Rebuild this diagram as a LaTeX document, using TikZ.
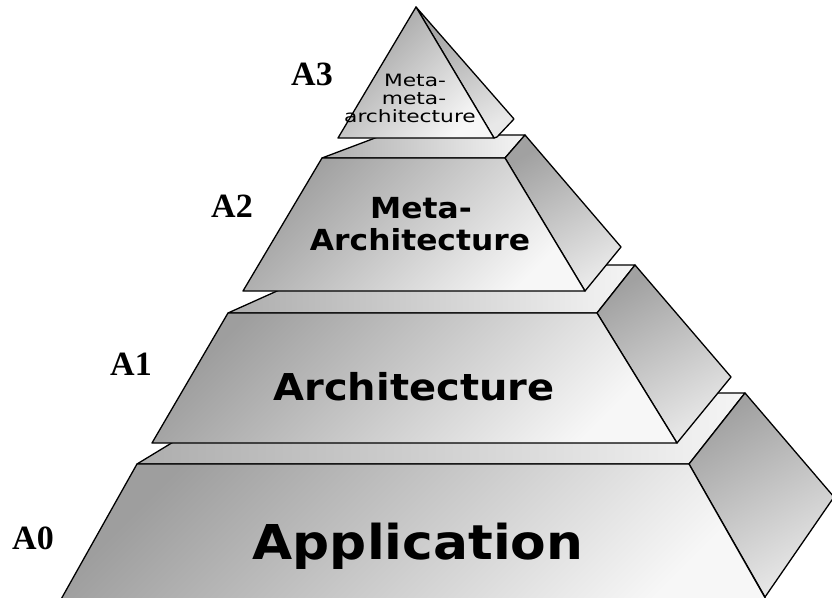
\documentclass[tikz,border=0pt]{standalone}
\usepackage{fontspec}
\newfontfamily\vfont[FakeStretch=1.08]{DejaVu Sans}
\newfontfamily\vsmall[FakeStretch=1.28]{DejaVu Sans}
\newfontfamily\labfont{Liberation Serif}
\definecolor{fdark}{gray}{0.62}
\definecolor{flight}{gray}{0.97}
\definecolor{sdark}{gray}{0.63}
\definecolor{slight}{gray}{0.91}
\definecolor{tdark}{gray}{0.68}
\definecolor{tlight}{gray}{0.96}
\tikzset{
  face/.style={draw=black, line width=1.3pt, line join=round},
  frontface/.style={face, top color=fdark, bottom color=flight, shading angle=45},
  sideface/.style={face, top color=sdark, bottom color=slight, shading angle=30},
  topface/.style={face, left color=tdark, right color=tlight},
  lab/.style={font=\labfont\bfseries\fontsize{34}{34}\selectfont, anchor=base, inner sep=0pt},
  bigtext/.style={font=\vfont\bfseries\fontsize{48}{48}\selectfont, anchor=base, inner sep=0pt},
  midtext/.style={font=\vfont\bfseries\fontsize{37}{37}\selectfont, anchor=base, inner sep=0pt},
  smalltext/.style={font=\vfont\bfseries\fontsize{29}{29}\selectfont, anchor=base, inner sep=0pt},
  tinytext/.style={font=\vsmall\fontsize{17}{17}\selectfont, anchor=base, inner sep=0pt}
}
\begin{document}
\begin{tikzpicture}[x=1pt,y=-1pt]
\clip (0,0) rectangle (832,597);
\fill[white] (0,0) rectangle (832,597);
% A0 layer
\draw[topface] (137,464) -- (254,393) -- (745,393) -- (689,464) -- cycle;
\draw[sideface] (689,464) -- (745,393) -- (834,497) -- (765,597) -- cycle;
\draw[frontface] (137,464) -- (689,464) -- (772,610) -- (55,610) -- cycle;
% A1 layer
\draw[topface] (228,313) -- (335,265) -- (635,265) -- (597,313) -- cycle;
\draw[sideface] (597,313) -- (635,265) -- (731,377) -- (677,443) -- cycle;
\draw[frontface] (228,313) -- (597,313) -- (677,443) -- (152,443) -- cycle;
% A2 layer
\draw[topface] (322,158) -- (383,135) -- (525,135) -- (505,158) -- cycle;
\draw[sideface] (505,158) -- (525,135) -- (621,247) -- (585,291) -- cycle;
\draw[frontface] (322,158) -- (505,158) -- (585,291) -- (243,291) -- cycle;
% A3 pyramid
\draw[sideface] (416,7) -- (514,119) -- (497,137) -- (494,138) -- cycle;
\draw[frontface] (416,7) -- (494,138) -- (338,138) -- cycle;
% texts
\node[bigtext] (app) at (418,559) {Application};
\node[midtext] (arch) at (414,400) {Architecture};
\node[smalltext] (meta2a) at (421,218) {Meta-};
\node[smalltext] (meta2b) at (420,250) {Architecture};
\node[tinytext] (meta3a) at (415,86) {Meta-};
\node[tinytext] (meta3b) at (414,104) {meta-};
\node[tinytext] (meta3c) at (410,122) {architecture};
% labels
\node[lab] (l3) at (312,85) {A3};
\node[lab] (l2) at (232,217) {A2};
\node[lab] (l1) at (131,375) {A1};
\node[lab] (l0) at (33,549) {A0};
\end{tikzpicture}
\end{document}
